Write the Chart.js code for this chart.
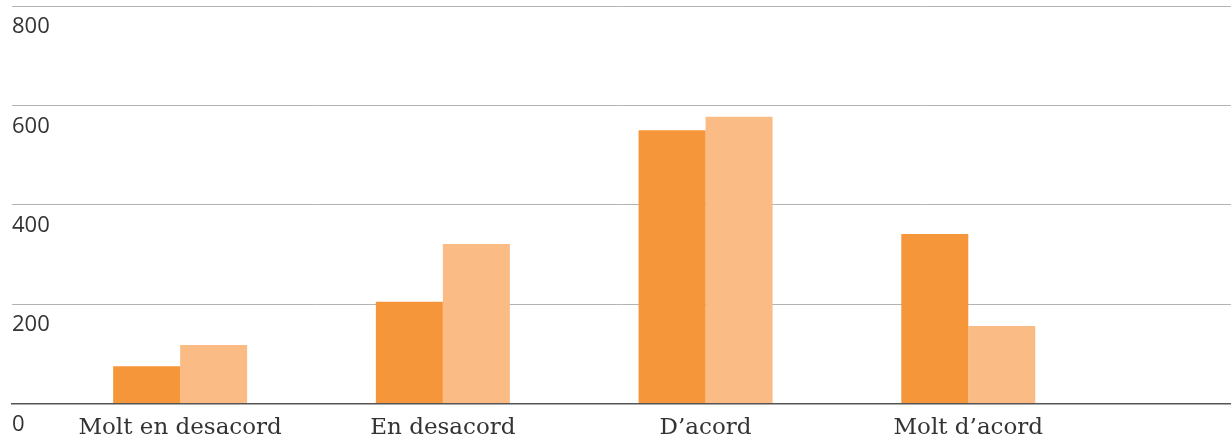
<!DOCTYPE html>
<html>
<head>
<meta charset="utf-8">
<title>Molt en desacord / Molt d'acord</title>
<script src="https://cdn.jsdelivr.net/npm/chart.js@4"></script>
<style>
  html, body { margin: 0; padding: 0; background: #fff; }
  #wrap { width: 1231px; height: 438px; position: relative; }
</style>
</head>
<body>
<div id="wrap"><canvas id="chart"></canvas></div>
<script>
// categories + two series
const categories = ['Molt en desacord', 'En desacord', 'D\u2019acord', 'Molt d\u2019acord'];
const seriesA = [75, 205, 550, 341];
const seriesB = [118, 321, 577, 156];
const yTicks = [0, 200, 400, 600, 800];

const toPoints = arr => arr.map((v, i) => ({x: i, y: v}));

const ctx = document.getElementById('chart').getContext('2d');
new Chart(ctx, {
  type: 'bar',
  data: {
    datasets: [
      {label: 'A', data: toPoints(seriesA), backgroundColor: '#f6963a', borderWidth: 0},
      {label: 'B', data: toPoints(seriesB), backgroundColor: '#fbbb84', borderWidth: 0}
    ]
  },
  options: {
    responsive: true,
    maintainAspectRatio: false,
    animation: false,
    // negative bottom padding: the x label band is taller than it looks
    layout: {padding: {left: 12, top: 6, right: 0, bottom: -15}},
    plugins: {legend: {display: false}, tooltip: {enabled: false}},
    datasets: {bar: {categoryPercentage: 0.51, barPercentage: 1, grouped: true}},
    scales: {
      x: {
        type: 'linear',
        offset: false,
        min: -0.64,
        max: 4,
        z: 1,
        afterBuildTicks: s => { s.ticks = categories.map((c, i) => ({value: i})); },
        grid: {display: false, drawTicks: false},
        border: {display: true, color: '#555', width: 1.5},
        ticks: {
          autoSkip: false,
          maxRotation: 0,
          padding: 23,
          color: '#333',
          font: {family: '"DejaVu Serif", serif', size: 23, lineHeight: 0.15},
          callback: v => categories[v] ?? ''
        }
      },
      y: {
        min: 0,
        max: 800,
        afterBuildTicks: s => { s.ticks = yTicks.map(v => ({value: v})); },
        grid: {color: '#b3b3b3', lineWidth: 1, drawTicks: false},
        border: {display: false},
        ticks: {
          mirror: true,
          padding: 0,
          labelOffset: 21,
          color: '#333',
          font: {family: '"Open Sans", sans-serif', size: 22, lineHeight: 0.5}
        }
      }
    }
  }
});
</script>
</body>
</html>
